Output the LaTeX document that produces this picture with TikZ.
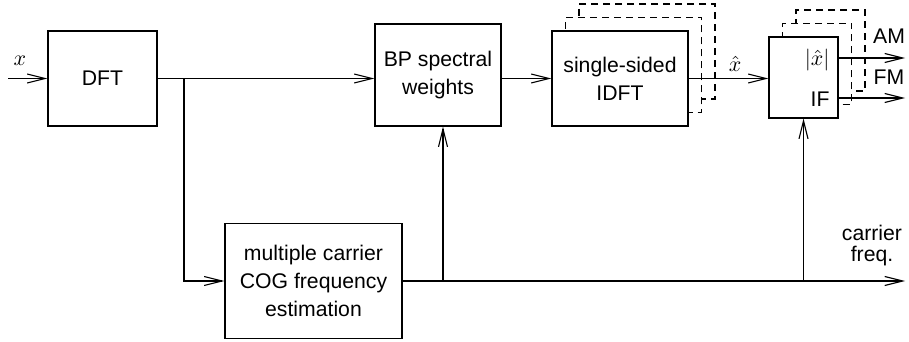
\documentclass[tikz,border=0pt]{standalone}
\usepackage{fontspec}
\setmainfont{Liberation Sans}
\usetikzlibrary{arrows.meta}

\tikzset{
  blk/.style={draw, fill=white, inner sep=0pt, align=center},
  copyblk/.style={draw, fill=white, inner sep=0pt, dash pattern=on 3.5pt off 2.5pt},
  sig/.style={-{Straight Barb[length=9pt,width=4.5pt]}},
}

\begin{document}
\begin{tikzpicture}[x=0.5pt, y=-0.5pt, line width=0.55pt,
    font=\fontsize{10.6}{14}\selectfont]
  \useasboundingbox (0,0) rectangle (909,342);

  % blocks
  \node[blk, minimum width=54.5pt, minimum height=47.5pt] (dft) at (102.5,78.5) {DFT};
  \node[blk, minimum width=63pt, minimum height=51pt] (bp) at (438,75) {BP spectral\\weights};

  % single-sided IDFT, one per carrier
  \node[copyblk, minimum width=68pt, minimum height=47.5pt] (idftb) at (647,51.5) {};
  \node[copyblk, minimum width=68pt, minimum height=47.5pt] (idfta) at (633.5,65) {};
  \node[blk, minimum width=68pt, minimum height=47.5pt] (idft) at (620,78.5) {single-sided\\IDFT};

  % envelope / instantaneous frequency
  \node[copyblk, minimum width=34.5pt, minimum height=40.5pt] (ifb) at (830.5,50.5) {};
  \node[copyblk, minimum width=34.5pt, minimum height=40.5pt] (ifa) at (817,64) {};
  \node[blk, minimum width=34.5pt, minimum height=40.5pt] (if) at (803.5,77.5) {};
  \node[anchor=east, inner sep=1pt] (ifmag) at (832,60) {$|\hat{x}|$};
  \node[anchor=east, inner sep=1pt] (iflab) at (832,99) {IF};

  \node[blk, minimum width=88.5pt, minimum height=57.5pt] (cog) at (313.5,281)
    {multiple carrier\\COG frequency\\estimation};

  % signal path
  \coordinate (xin) at (8,78.5);
  \coordinate (split) at (184,78.5);
  \coordinate (tapbp) at (443,281);
  \coordinate (amout) at (905,58);
  \coordinate (fmout) at (905,98);
  \coordinate (cfout) at (905,281);

  \draw[sig] (xin) -- (dft.west);
  \node (xlab) at (20,61) {$x$};
  \draw[sig] (dft.east) -- (dft.east -| bp.west);
  \draw[sig] (split) |- (cog.west);
  \draw[sig] (bp.east |- idft.west) -- (idft.west);
  \draw[sig] (idft.east) -- (if.west |- idft.east);
  \node (xhat) at (735,64) {$\hat{x}$};

  \draw[sig] (if.east |- amout) -- (amout);
  \draw[sig] (if.east |- fmout) -- (fmout);
  \node (am) at (889,36) {AM};
  \node (fm) at (889,77) {FM};

  % carrier frequency estimate
  \draw[sig] (cog.east) -- (cfout);
  \draw[sig] (tapbp) -- (tapbp |- bp.south);
  \draw[sig] (cog.east -| if.south) -- (if.south);
  \node[align=center, font=\fontsize{10.6}{10.5}\selectfont] (cflab) at (872,246) {carrier\\freq.};
\end{tikzpicture}
\end{document}
